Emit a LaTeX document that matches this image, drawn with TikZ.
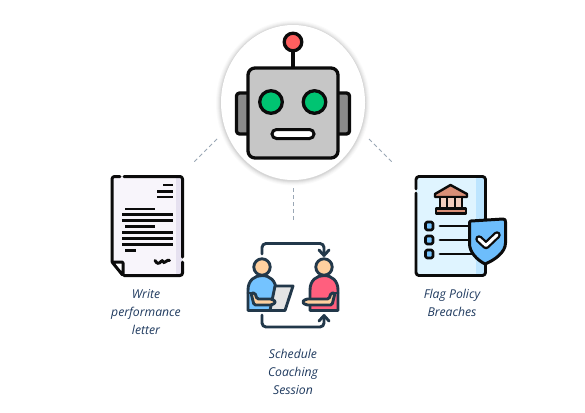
\documentclass[tikz,border=0pt]{standalone}
\usepackage{fontspec}
\setmainfont{Open Sans}
\definecolor{navy}{HTML}{1F3A5F}
\definecolor{ink}{HTML}{0B0B0B}
\definecolor{slate}{HTML}{22384A}
\definecolor{dashc}{HTML}{9AA7B5}
\definecolor{headc}{HTML}{C6C6C6}
\definecolor{earc}{HTML}{8A8A8A}
\definecolor{eyec}{HTML}{00C472}
\definecolor{ballc}{HTML}{FF5F5F}
\definecolor{paper}{HTML}{F8F5FB}
\definecolor{paperd}{HTML}{E6E1F0}
\definecolor{skin}{HTML}{FFD09F}
\definecolor{bluep}{HTML}{74C3FF}
\definecolor{redp}{HTML}{FF5F7E}
\definecolor{tablet}{HTML}{E4E4E4}
\definecolor{pagel}{HTML}{DFF4FF}
\definecolor{paged}{HTML}{BDE5FF}
\definecolor{bank}{HTML}{D98F77}
\definecolor{bankl}{HTML}{F2CDBD}
\definecolor{shield}{HTML}{6DBDFB}
\tikzset{
  x=1pt,y=-1pt,
  lab/.style={font=\fontsize{12.2}{18}\selectfont\itshape,text=navy,align=center,inner sep=0pt},
  dashline/.style={draw=dashc,line width=1pt,dash pattern=on 4pt off 3pt},
  rob/.style={draw=ink,line width=3.3pt,rounded corners=3pt,line join=round},
  doc/.style={draw=ink,line width=3pt,line cap=round,line join=round},
  cch/.style={draw=slate,line width=2.9pt,line cap=round,line join=round},
  pol/.style={draw=ink,line width=2.9pt,line cap=round,line join=round},
}
\begin{document}
\begin{tikzpicture}
\useasboundingbox (0,0) rectangle (585,412);
\fill[white] (0,0) rectangle (585,412);
% halo
\foreach \g/\o in {5/0.02,4/0.025,3/0.03,2/0.04,1/0.05}
  \fill[black,opacity=\o] (293,103) ellipse [x radius={72+\g},y radius={77.5+\g}];
\fill[white] (293,102.5) ellipse [x radius=72,y radius=77.5];
% dashed connectors
\coordinate (la) at (217,139); \coordinate (lb) at (193,163);
\coordinate (ra) at (369,139); \coordinate (rb) at (393,163);
\coordinate (ma) at (293,188); \coordinate (mb) at (293,222);
\draw[dashline] (la) -- (lb);
\draw[dashline] (ra) -- (rb);
\draw[dashline] (ma) -- (mb);
% robot
\draw[rob,fill=earc] (248,93) -- (236.5,93) -- (236.5,134) -- (248,134);
\draw[rob,fill=earc] (338,93) -- (349.5,93) -- (349.5,134) -- (338,134);
\draw[ink,line width=3.3pt] (293,50) -- (293,68);
\draw[draw=ink,line width=3.3pt,fill=ballc] (293,42) circle (8.8);
\draw[rob,rounded corners=7pt,fill=headc] (248,68) rectangle (338,158);
\draw[draw=ink,line width=3.3pt,fill=eyec] (271,102) circle (11.3);
\draw[draw=ink,line width=3.3pt,fill=eyec] (314.5,102) circle (11.3);
\draw[draw=ink,line width=3pt,fill=white,rounded corners=4.5pt] (272,129.5) rectangle (314,138.5);
% document
\fill[paper] (112,177) -- (182,177) -- (182,275) -- (124,275) -- (112,262) -- cycle;
\fill[paperd] (176,177) rectangle (182,275);
\draw[doc,rounded corners=2.5pt] (120,176.5) -- (112,176.5) -- (112,262);
\draw[doc,rounded corners=2.5pt] (124,176.5) -- (182.5,176.5) -- (182.5,257);
\draw[doc,rounded corners=2.5pt] (182.5,262) -- (182.5,275.5) -- (124,275.5);
\draw[doc,fill=white,rounded corners=1pt] (112,262) -- (123,262) -- (123,275.5) -- cycle;
\foreach \xa/\xb/\yy in {163/173/185,157/173/191.5,157/173/197,
  125/155/209,122/173/214.5,122/173/220.5,125/155/226.5,122/173/232.5,122/173/238.5,122/173/244.5,125/136/250.5}
  \draw[ink,line width=2.8pt] (\xa,\yy) -- (\xb,\yy);
\draw[ink,line width=3pt,line cap=round] (155,260.5) .. controls (157,264) and (159,264) .. (161,261.5) .. controls (163,259) and (163,264) .. (165,262) .. controls (167,260) and (169,260) .. (169.5,260.5);
\node[lab] (t1) at (146,312) {Write\\performance\\letter};
% coaching
\draw[cch,rounded corners=4pt] (262,254) -- (262,243.5) -- (324,243.5) -- (324,255);
\draw[cch] (319,250) -- (324,255.5) -- (329,250);
\draw[cch,rounded corners=4pt] (262,315) -- (262,327) -- (324,327) -- (324,316);
\draw[cch] (319,321) -- (324,315.5) -- (329,321);
% left person
\draw[cch,fill=bluep] (248,310.5) -- (248,290) .. controls (248,280) and (255,275.5) .. (262,275.5) .. controls (270,275.5) and (276,281) .. (276,290) -- (276,310.5) -- cycle;
\draw[cch,fill=skin] (262,267) circle (8.2);
\draw[cch,fill=tablet] (275,286) -- (293,286) -- (285,310.5) -- (270,310.5) -- cycle;
\draw[cch,fill=skin,rounded corners=1.5pt] (251,293) -- (255,293) -- (257,299) -- (272,299) -- (276,302) -- (272,305) -- (254,305) -- cycle;
\draw[cch] (248,293) -- (251,293);
% right person
\draw[cch,fill=redp] (310,310.5) -- (310,290) .. controls (310,280) and (317,275.5) .. (324,275.5) .. controls (332,275.5) and (338,281) .. (338,290) -- (338,310.5) -- cycle;
\draw[cch,fill=skin] (324,267) circle (8.2);
\draw[cch,fill=skin,rounded corners=1.5pt] (335,293) -- (331,293) -- (329,299) -- (306,299) -- (302,302) -- (306,305) -- (332,305) -- cycle;
\draw[cch] (335,293) -- (338,293);
\node[lab] (t2) at (293,372) {Schedule\\Coaching\\Session};
% policy
\fill[pagel] (416,176) rectangle (486,276);
\fill[paged] (476,177) rectangle (486,275);
\draw[pol,rounded corners=3pt] (416,189) -- (416,176.5) -- (485.5,176.5) -- (485.5,275.5) -- (416,275.5) -- (416,193);
% bank
\draw[pol,line width=2.4pt,fill=bank] (435,194) -- (450.5,185) -- (467,194) -- (467,197) -- (435,197) -- cycle;
\fill[bankl] (440,198) rectangle (462,208);
\draw[pol,line width=2.4pt] (440,198) -- (440,208) (447,198) -- (447,208) (455,198) -- (455,208) (462,198) -- (462,208);
\draw[pol,line width=2.4pt,fill=bank] (436,208.5) rectangle (466,213.5);
% checklist
\foreach \yy in {226,240,254}{
  \draw[pol,line width=2.6pt,fill=bluep,rounded corners=1.5pt] (425.5,\yy-4) rectangle (433,\yy+4);
  \draw[pol] (440,\yy) -- (472,\yy);
}
% shield
\draw[draw=ink,line width=3pt,line join=round,fill=shield] (471,221) -- (503,219) .. controls (505,219) and (505.5,220) .. (505.5,222) -- (505.5,243) .. controls (505.5,252) and (495,260) .. (485,264) .. controls (477,260) and (469.5,252) .. (469.5,244) -- (469.5,223) .. controls (469.5,222) and (470,221) .. (471,221) -- cycle;
\draw[ink,line width=7.5pt,line cap=round,line join=round] (479,239) -- (486,245.5) -- (497,235);
\draw[white,line width=3pt,line cap=round,line join=round] (479,239) -- (486,245.5) -- (497,235);
\node[lab] (t3) at (452,303) {Flag Policy\\Breaches};
\end{tikzpicture}
\end{document}
